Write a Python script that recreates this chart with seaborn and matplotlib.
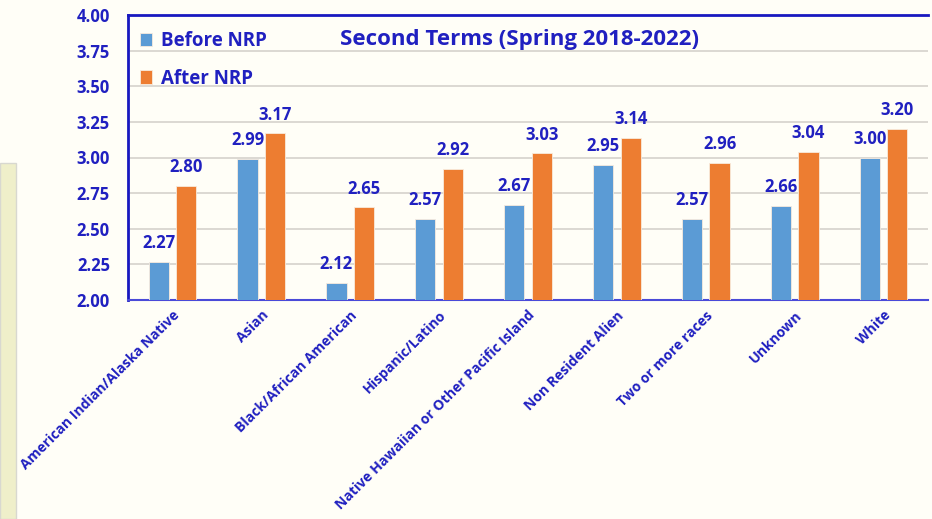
import pandas as pd
import matplotlib.pyplot as plt
import seaborn as sns
from matplotlib.patches import Rectangle

# data
categories = ['American Indian/Alaska Native', 'Asian', 'Black/African American',
              'Hispanic/Latino', 'Native Hawaiian or Other Pacific Island',
              'Non Resident Alien', 'Two or more races', 'Unknown', 'White']
before_nrp = [2.27, 2.99, 2.12, 2.57, 2.67, 2.95, 2.57, 2.66, 3.00]
after_nrp = [2.80, 3.17, 2.65, 2.92, 3.03, 3.14, 2.96, 3.04, 3.20]
series_names = ['Before NRP', 'After NRP']
y_ticks = [2.00, 2.25, 2.50, 2.75, 3.00, 3.25, 3.50, 3.75, 4.00]

df = pd.DataFrame({
    'category': categories * 2,
    'value': before_nrp + after_nrp,
    'series': [series_names[0]] * len(categories) + [series_names[1]] * len(categories),
})

sns.set_style('white')
plt.rcParams['font.family'] = ['Open Sans', 'DejaVu Sans']
plt.rcParams['font.weight'] = 'bold'

txt = '#2020C0'
bg = '#FFFEF7'

fig = plt.figure(figsize=(9.32, 5.19), dpi=100, facecolor=bg)
# pale side panel from the screenshot
fig.patches.append(Rectangle((0, 0), 16 / 932, 1 - 163 / 519, transform=fig.transFigure,
                             facecolor='#EFEFCA', edgecolor='#D8D8D0', linewidth=1, zorder=0))
ax = fig.add_axes([128 / 932, 1 - 300 / 519, 800 / 932, 285 / 519])
ax.set_facecolor(bg)

sns.barplot(data=df, x='category', y='value', hue='series', order=categories,
            hue_order=series_names, palette=['#5B9BD5', '#ED7D31'], saturation=1,
            width=0.62, gap=0.27, edgecolor='#F8EBDD', linewidth=0.6, ax=ax, zorder=3)

ax.set_ylim(2.0, 4.0)
ax.set_yticks(y_ticks)
ax.set_yticklabels([f'{v:.2f}' for v in y_ticks])
ax.yaxis.grid(True, color='#D9D6D0', linewidth=1.3, zorder=0)
ax.set_axisbelow(True)
ax.tick_params(axis='both', length=0, colors=txt)
ax.tick_params(axis='y', labelsize=12, pad=13)
for t in ax.get_yticklabels():
    t.set_fontweight('bold')
ax.set_xticks(range(len(categories)))
ax.set_xticklabels(categories, rotation=45, ha='right', va='top',
                   rotation_mode='anchor', fontsize=10.1, fontweight='bold', color=txt)
ax.tick_params(axis='x', pad=6)
ax.set_xlabel('')
ax.set_ylabel('')

for side in ['left', 'top']:
    ax.spines[side].set_color('#1818C0')
    ax.spines[side].set_linewidth(2)
ax.spines['bottom'].set_color('#4A4AD8')
ax.spines['bottom'].set_linewidth(1.5)
ax.spines['right'].set_visible(False)

# value labels above bars
for cont in ax.containers:
    ax.bar_label(cont, fmt='%.2f', padding=7, fontsize=12, fontweight='bold', color=txt)

ax.set_title('Second Terms (Spring 2018-2022)', fontsize=16, fontweight='bold',
             color=txt, x=0.49, y=0.865)

ax.legend(loc='upper left', bbox_to_anchor=(0.006, 0.97), frameon=False, labelcolor=txt,
          handlelength=0.6, handleheight=0.75, handletextpad=0.5, labelspacing=0.95,
          borderaxespad=0.0, prop={'weight': 'bold', 'size': 13.5})

fig.savefig('out.png', dpi=100, facecolor=bg)
